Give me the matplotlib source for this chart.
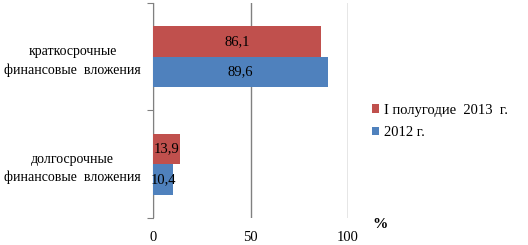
import matplotlib.pyplot as plt

plt.rcParams['font.family'] = ['Liberation Serif', 'DejaVu Serif']

categories = ['долгосрочные\nфинансовые  вложения', 'краткосрочные\nфинансовые  вложения']
half2013 = [13.9, 86.1]
y2012 = [10.4, 89.6]
labels2013 = ['13,9', '86,1']
labels2012 = ['10,4', '89,6']
red = '#C0504D'
blue = '#4F81BD'

fig = plt.figure(figsize=(5.28, 2.45), dpi=100)
ax = fig.add_axes([0.29, 0.11, 0.369, 0.878])

pos = [0.5, 1.5]
h = 0.285
b1 = ax.barh([p + h / 2 for p in pos], half2013, height=h, color=red, label='I полугодие  2013  г.', zorder=3)
b2 = ax.barh([p - h / 2 for p in pos], y2012, height=h, color=blue, label='2012 г.', zorder=3)
ax.bar_label(b1, labels=labels2013, label_type='center', fontsize=10.5, zorder=4)
ax.bar_label(b2, labels=labels2012, label_type='center', fontsize=10.5, zorder=4)

ax.set_xlim(0, 100)
ax.set_ylim(0, 2)
ax.set_xticks([0, 50, 100])
ax.set_yticks([0, 1, 2])
ax.set_yticklabels([])
ax.set_yticks(pos, minor=True)
ax.set_yticklabels(categories, minor=True, ha='center', fontsize=10, linespacing=1.5)
ax.tick_params(axis='y', which='minor', length=0, pad=58)
ax.tick_params(axis='y', which='major', length=4, color='#808080')
ax.tick_params(axis='x', length=0, labelsize=10.5, pad=9)
ax.xaxis.grid(True, color='#808080', linewidth=1, zorder=0)
for s in ['top', 'right', 'bottom']:
    ax.spines[s].set_visible(False)
ax.spines['left'].set_color('#808080')

fig.text(0.72, 0.07, '%', fontsize=11, fontweight='bold', ha='center')

handles, lbls = ax.get_legend_handles_labels()
fig.legend(handles, lbls, loc='upper left', bbox_to_anchor=(0.68, 0.63), frameon=False,
           fontsize=10.5, handlelength=0.5, handleheight=0.5, handletextpad=0.3, labelspacing=0.65)

fig.savefig('out.png', dpi=100)
